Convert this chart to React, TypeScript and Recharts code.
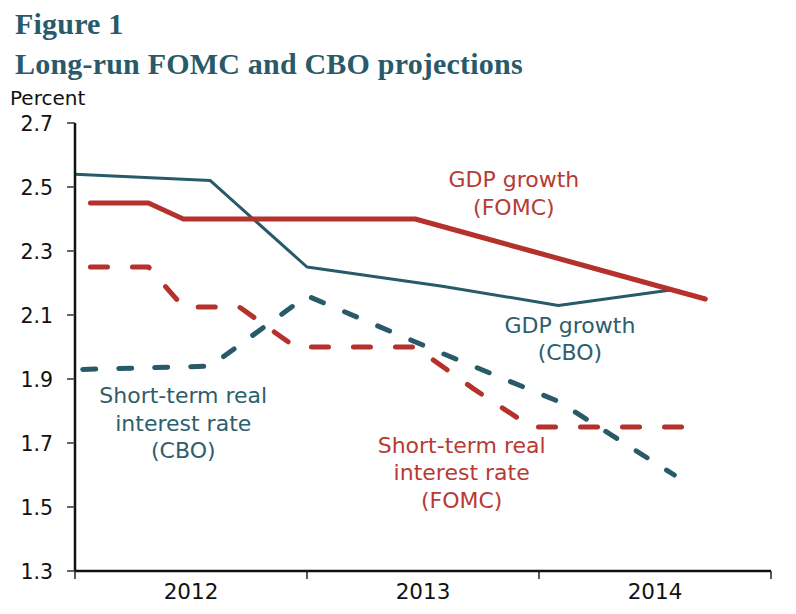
import React from "react";
import { LineChart, Line, XAxis, YAxis, ReferenceDot } from "recharts";

// Months since Jan 2012 (0 = start of 2012, 36 = end of 2014)
const fomcMonths = [0.8, 3.8, 5.6, 8.5, 11.4, 14.6, 17.6, 20.6, 23.6, 26.6, 29.6, 32.6];
const fomcGdp = [2.45, 2.45, 2.4, 2.4, 2.4, 2.4, 2.4, 2.35, 2.3, 2.25, 2.2, 2.15];
const fomcRate = [2.25, 2.25, 2.125, 2.125, 2.0, 2.0, 2.0, 1.87, 1.75, 1.75, 1.75, 1.75];

const cboGdpMonths = [0, 7, 12, 19, 25, 31];
const cboGdp = [2.54, 2.52, 2.25, 2.19, 2.13, 2.18];
const cboRateMonths = [0.4, 7, 12, 19, 25, 31];
const cboRate = [1.93, 1.94, 2.16, 1.98, 1.83, 1.6];

const yTicks = [1.3, 1.5, 1.7, 1.9, 2.1, 2.3, 2.5, 2.7];
const xTicks = [0, 6, 12, 18, 24, 30, 36];
const yearLabels: Record<number, string> = { 6: "2012", 18: "2013", 30: "2014" };

const RED = "#b5312c";
const TEAL = "#285a6a";
const RED_TXT = "#b83a34";
const TEAL_TXT = "#2d5e6d";

const toSeries = (months: number[], vals: number[]) => months.map((m, i) => ({ m, v: vals[i] }));

const annotations = [
  { m: 22.7, v: 2.5, color: RED_TXT, lines: ["GDP growth", "(FOMC)"] },
  { m: 25.6, v: 2.044, color: TEAL_TXT, lines: ["GDP growth", "(CBO)"] },
  { m: 5.6, v: 1.825, color: TEAL_TXT, lines: ["Short-term real", "interest rate", "(CBO)"] },
  { m: 20.0, v: 1.669, color: RED_TXT, lines: ["Short-term real", "interest rate", "(FOMC)"] },
];

const XTick = (props: any) => {
  const { x, y, payload } = props;
  const val = payload.value;
  if (val % 12 === 0) {
    return <line x1={x} x2={x} y1={y} y2={y + 8} stroke="#222" strokeWidth={1.5} />;
  }
  return (
    <text x={x} y={y + 28} textAnchor="middle" fill="#111" fontSize={21.5} fontFamily="'DejaVu Sans', sans-serif">
      {yearLabels[val]}
    </text>
  );
};

const YTick = (props: any) => {
  const { x, y, payload } = props;
  return (
    <text x={x} y={y + 8} textAnchor="end" fill="#111" fontSize={20.5} fontFamily="'DejaVu Sans', sans-serif">
      {payload.value.toFixed(1)}
    </text>
  );
};

export default function App() {
  return (
    <div style={{ position: "absolute", left: 0, top: 0, width: 796, height: 614, background: "#fff" }}>
      <div
        style={{
          position: "absolute",
          left: 15,
          top: 4,
          color: "#285a6a",
          fontFamily: "'Liberation Serif', 'DejaVu Serif', serif",
          fontWeight: 700,
          fontSize: 30,
          lineHeight: "40px",
          letterSpacing: "0.2px",
          whiteSpace: "nowrap",
        }}
      >
        <div>Figure 1</div>
        <div>Long-run FOMC and CBO projections</div>
      </div>
      <div
        style={{
          position: "absolute",
          left: 10,
          top: 86,
          fontFamily: "'DejaVu Sans', sans-serif",
          fontSize: 20,
          color: "#111",
          whiteSpace: "nowrap",
        }}
      >
        Percent
      </div>
      <div style={{ position: "absolute", left: 0, top: 0 }}>
        <LineChart width={796} height={614} margin={{ top: 123, right: 25, bottom: 0, left: 0 }}>
          <XAxis
            type="number"
            dataKey="m"
            domain={[0, 36]}
            ticks={xTicks}
            interval={0}
            allowDuplicatedCategory={false}
            height={43}
            tickLine={false}
            tickSize={0}
            tickMargin={0}
            axisLine={{ stroke: "#111", strokeWidth: 2.5 }}
            tick={<XTick />}
          />
          <YAxis
            type="number"
            domain={[1.3, 2.7]}
            ticks={yTicks}
            interval={0}
            width={75}
            tickSize={8}
            tickMargin={14}
            tickLine={{ stroke: "#333", strokeWidth: 1.5 }}
            axisLine={{ stroke: "#111", strokeWidth: 2.5 }}
            tick={<YTick />}
          />
          <Line
            data={toSeries(cboGdpMonths, cboGdp)}
            dataKey="v"
            stroke={TEAL}
            strokeWidth={3}
            dot={false}
            strokeLinejoin="round"
            isAnimationActive={false}
          />
          <Line
            data={toSeries(cboRateMonths, cboRate)}
            dataKey="v"
            stroke={TEAL}
            strokeWidth={5}
            strokeDasharray="13 23"
            strokeLinecap="round"
            strokeLinejoin="round"
            dot={false}
            isAnimationActive={false}
          />
          <Line
            data={toSeries(fomcMonths, fomcRate)}
            dataKey="v"
            stroke={RED}
            strokeWidth={5}
            strokeDasharray="17 25"
            strokeLinecap="round"
            strokeLinejoin="round"
            dot={false}
            isAnimationActive={false}
          />
          <Line
            data={toSeries(fomcMonths, fomcGdp)}
            dataKey="v"
            stroke={RED}
            strokeWidth={5}
            strokeLinecap="round"
            strokeLinejoin="round"
            dot={false}
            isAnimationActive={false}
          />
          {annotations.map((a, i) => (
            <ReferenceDot
              key={i}
              x={a.m}
              y={a.v}
              r={0}
              ifOverflow="visible"
              shape={(p: any) => (
                <text
                  x={p.cx}
                  y={p.cy}
                  textAnchor="middle"
                  fill={a.color}
                  fontSize={22}
                  fontFamily="'DejaVu Sans', Verdana, sans-serif"
                >
                  {a.lines.map((ln, j) => (
                    <tspan key={j} x={p.cx} dy={j === 0 ? 0 : 27.5}>
                      {ln}
                    </tspan>
                  ))}
                </text>
              )}
            />
          ))}
        </LineChart>
      </div>
    </div>
  );
}
